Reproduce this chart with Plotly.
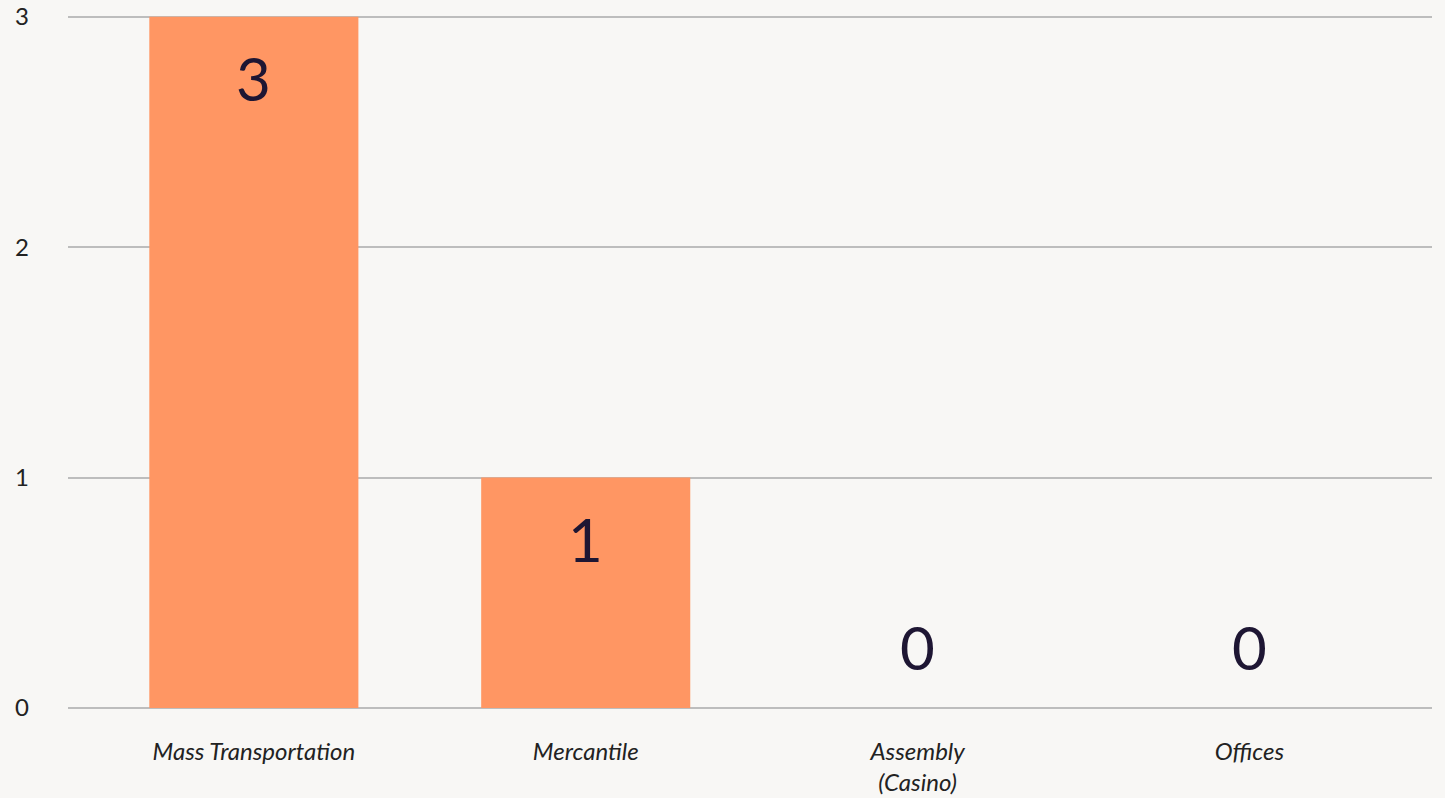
import plotly.graph_objects as go

categories = ["Mass Transportation", "Mercantile", "Assembly<br>(Casino)", "Offices"]
values = [3, 1, 0, 0]
y_ticks = [0, 1, 2, 3]

FONT = "Lato"
BAR_COLOR = "#FF9663"
TEXT_DARK = "#1e1633"

fig = go.Figure()
fig.add_trace(go.Bar(
    x=categories, y=values, marker=dict(color=BAR_COLOR, line=dict(width=0)),
    hoverinfo="x+y",
))

for c, v in zip(categories, values):
    fig.add_annotation(
        x=c, y=v, text=str(v), showarrow=False,
        yanchor="middle", xanchor="center",
        yshift=(-61 if v > 0 else 61),
        font=dict(family=FONT, size=60, color=TEXT_DARK),
    )

fig.update_layout(
    width=1445, height=798,
    margin=dict(l=68, r=13, t=15, b=90, autoexpand=False),
    paper_bgcolor="#f8f7f5", plot_bgcolor="#f8f7f5",
    bargap=0.37, showlegend=False,
    font=dict(family=FONT, color="#222222"),
)
fig.update_xaxes(
    type="category", range=[-0.56, 3.55], automargin=False,
    tickfont=dict(family=FONT, size=24, style="italic", color="#222222"),
    showgrid=False, showline=False, zeroline=False, ticks="",
    ticklabelstandoff=27,
)
fig.update_yaxes(
    range=[0, 3.008], tickvals=y_ticks, ticktext=[str(t) for t in y_ticks],
    automargin=False,
    tickfont=dict(family=FONT, size=24, color="#222222"),
    showgrid=True, gridcolor="#bdbdbd", gridwidth=1.5,
    zeroline=True, zerolinecolor="#bdbdbd", zerolinewidth=1.5,
    ticks="", ticklabelstandoff=38,
)

fig.write_html(
    "out.html",
    config={"displayModeBar": False},
    post_script="document.body.style.margin='0';document.body.style.background='#f8f7f5';",
)
